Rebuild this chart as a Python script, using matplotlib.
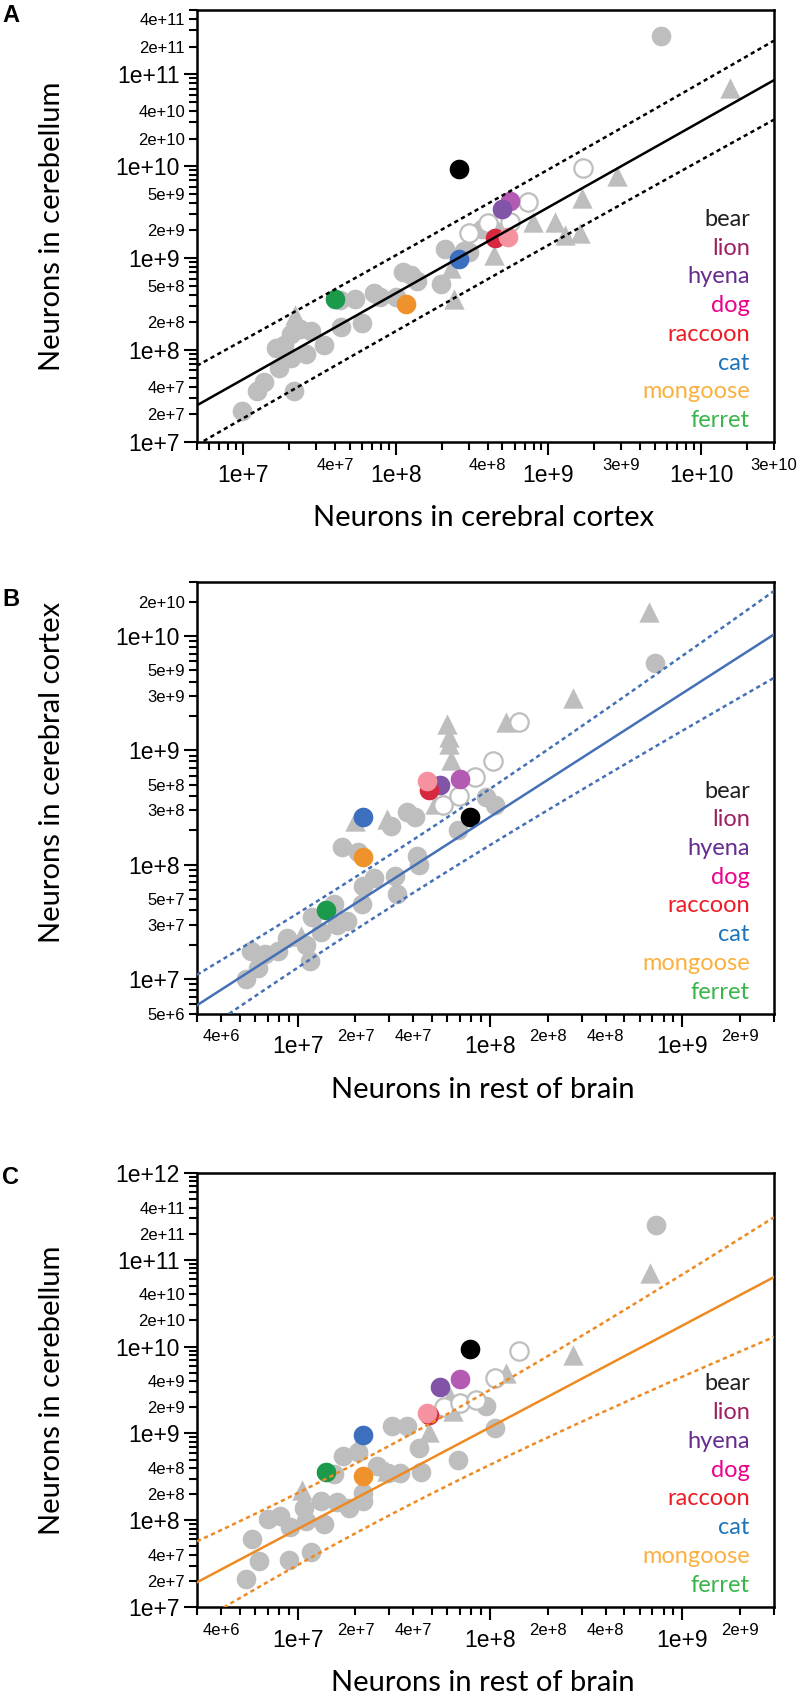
import numpy as np
import matplotlib
matplotlib.use("Agg")
import matplotlib.pyplot as plt

# ---- species (one row per species, same values reused in every panel) ----
SPECIES = ["bear", "lion", "hyena", "dog", "raccoon", "cat", "mongoose", "ferret"]
SPECIES_CORTEX = [2.6e8, 5.6e8, 5.0e8, 5.4e8, 4.5e8, 2.6e8, 1.17e8, 4.0e7]
SPECIES_CEREBELLUM = [9.4e9, 4.2e9, 3.4e9, 1.7e9, 1.65e9, 9.7e8, 3.2e8, 3.6e8]
SPECIES_REST = [7.9e7, 7.0e7, 5.5e7, 4.7e7, 4.8e7, 2.2e7, 2.2e7, 1.4e7]
MARKER_COLORS = ["#000000", "#b35ab3", "#8254a8", "#f4939f", "#d6283f",
                 "#3d6fbf", "#f0922b", "#1b9a4b"]
LABEL_COLORS = ["#231f20", "#9e1f63", "#662d91", "#ec008c", "#ed1c24",
                "#1c75bc", "#fbb040", "#39b54a"]
# order in which the coloured dots are stacked (dog sits on top of raccoon)
DRAW_ORDER = [0, 1, 2, 4, 3, 5, 6, 7]

# ---- panel A: cerebellum vs cerebral cortex ----
A_CIRCLE_X = [9.8e6, 1.23e7, 1.38e7, 1.71e7, 2.15e7, 1.64e7, 1.85e7, 2.07e7, 2.07e7, 2.6e7,
              2.38e7, 2.8e7, 3.4e7, 4.4e7, 6.0e7, 5.4e7, 4.3e7, 7.2e7, 7.9e7, 1.0e8,
              1.12e8, 1.26e8, 1.38e8, 1.98e8, 2.1e8, 2.8e8, 3.0e8, 3.7e8, 4.3e8, 5.5e9]
A_CIRCLE_Y = [2.2e7, 3.6e7, 4.5e7, 6.4e7, 3.6e7, 1.04e8, 1.14e8, 1.48e8, 8.3e7, 9.1e7,
              1.7e8, 1.62e8, 1.14e8, 1.78e8, 1.95e8, 3.6e8, 3.5e8, 4.2e8, 3.8e8, 3.8e8,
              7.1e8, 6.5e8, 5.6e8, 5.2e8, 1.26e9, 1.2e9, 1.16e9, 2.1e9, 2.1e9, 2.6e11]
A_TRI_X = [2.2e7, 2.3e8, 2.4e8, 4.4e8, 7.9e8, 1.11e9, 1.29e9, 1.62e9, 1.66e9, 2.8e9, 1.55e10]
A_TRI_Y = [2.4e8, 7.8e8, 3.6e8, 1.07e9, 2.5e9, 2.5e9, 1.8e9, 1.9e9, 4.5e9, 7.9e9, 7.1e10]
A_OPEN_X = [3.0e8, 4.0e8, 5.6e8, 7.4e8, 1.69e9]
A_OPEN_Y = [1.9e9, 2.4e9, 2.5e9, 4.1e9, 9.5e9]

# ---- panel B: cerebral cortex vs rest of brain ----
B_CIRCLE_X = [5.4e6, 5.7e6, 6.2e6, 6.8e6, 7.9e6, 8.8e6, 1.1e7, 1.16e7, 1.19e7, 1.33e7,
              1.55e7, 1.6e7, 1.81e7, 1.7e7, 2.05e7, 2.18e7, 2.15e7, 2.5e7, 3.05e7, 3.2e7,
              3.3e7, 3.7e7, 4.1e7, 4.2e7, 4.3e7, 6.8e7, 9.5e7, 1.06e8, 7.2e8]
B_CIRCLE_Y = [1.0e7, 1.77e7, 1.24e7, 1.65e7, 1.77e7, 2.3e7, 2.0e7, 1.43e7, 3.5e7, 2.6e7,
              4.5e7, 3.0e7, 3.2e7, 1.43e8, 1.28e8, 6.5e7, 4.5e7, 7.7e7, 2.2e8, 8.0e7,
              5.6e7, 2.9e8, 2.6e8, 1.19e8, 1.0e8, 2.0e8, 3.9e8, 3.3e8, 5.8e9]
B_TRI_X = [1.04e7, 2.0e7, 2.9e7, 5.2e7, 6.0e7, 6.1e7, 6.1e7, 6.3e7, 1.21e8, 2.7e8, 6.7e8]
B_TRI_Y = [2.4e7, 2.4e8, 2.5e8, 3.4e8, 1.7e9, 1.32e9, 1.14e9, 8.3e8, 1.76e9, 2.9e9, 1.63e10]
B_OPEN_X = [5.7e7, 6.9e7, 8.4e7, 1.04e8, 1.41e8]
B_OPEN_Y = [3.3e8, 4.0e8, 5.8e8, 8.0e8, 1.76e9]

# ---- panel C: cerebellum vs rest of brain ----
C_CIRCLE_X = [5.4e6, 5.8e6, 6.3e6, 7.0e6, 8.1e6, 9.0e6, 9.1e6, 1.08e7, 1.18e7, 1.11e7,
              1.32e7, 1.37e7, 1.55e7, 1.6e7, 1.85e7, 1.73e7, 2.05e7, 2.2e7, 2.2e7, 2.6e7,
              2.96e7, 3.4e7, 3.1e7, 3.7e7, 4.3e7, 4.4e7, 6.8e7, 9.6e7, 1.06e8, 7.3e8]
C_CIRCLE_Y = [2.1e7, 6.1e7, 3.35e7, 1.03e8, 1.13e8, 3.45e7, 8.4e7, 1.38e8, 4.3e7, 9.8e7,
              1.68e8, 9.1e7, 3.4e8, 1.6e8, 1.38e8, 5.5e8, 6.1e8, 2.05e8, 1.68e8, 4.2e8,
              3.5e8, 3.5e8, 1.22e9, 1.22e9, 6.7e8, 3.6e8, 5.0e8, 2.05e9, 1.16e9, 2.5e11]
C_TRI_X = [1.06e7, 2.05e7, 2.9e7, 4.8e7, 6.2e7, 6.4e7, 1.21e8, 2.7e8, 6.8e8]
C_TRI_Y = [2.2e8, 7.4e8, 3.7e8, 1.05e9, 2.6e9, 1.8e9, 4.9e9, 8.0e9, 7.1e10]
C_OPEN_X = [5.8e7, 7.0e7, 8.5e7, 1.06e8, 1.41e8]
C_OPEN_Y = [2.0e9, 2.26e9, 2.44e9, 4.3e9, 9.0e9]

# ---- power-law fits: y at x=1e7, exponent, prediction band (w0, k, centre in log10 x) ----
A_FIT = (4.8e7, 0.936, 0.41, 0.028, 8.6)
B_FIT = (2.17e7, 1.081, 0.23, 0.40, 7.4)
C_FIT = (7.9e7, 1.172, 0.40, 0.456, 7.4)

# ---- axes ranges and labelled ticks ----
A_XLIM, A_YLIM = (5e6, 3e10), (1e7, 5e11)
B_XLIM, B_YLIM = (3e6, 3e9), (5e6, 3e10)
C_XLIM, C_YLIM = (3e6, 3e9), (1e7, 1e12)
A_XSMALL = [4e7, 4e8, 3e9, 3e10]
A_YSMALL = [2e7, 4e7, 2e8, 5e8, 2e9, 5e9, 2e10, 4e10, 2e11, 4e11]
B_XSMALL = [4e6, 2e7, 4e7, 2e8, 4e8, 2e9]
B_YSMALL = [5e6, 3e7, 5e7, 3e8, 5e8, 3e9, 5e9, 2e10]
C_YSMALL = [2e7, 4e7, 2e8, 4e8, 2e9, 4e9, 2e10, 4e10, 2e11, 4e11]

GRAY = "#bebebe"
TICK_FONT = "Liberation Sans"
TEXT_FONT = "Lato"

W, H = 800, 1702


def sci_label(v):
    e = int(np.floor(np.log10(v) + 1e-9))
    m = int(round(v / 10 ** e))
    return f"{m}e+{e}"


def log_ticks(lim, small):
    lo, hi = np.log10(lim[0]), np.log10(lim[1])
    majors = [10.0 ** e for e in range(int(np.ceil(lo - 1e-9)), int(np.floor(hi + 1e-9)) + 1)]
    minors = []
    for e in range(int(np.floor(lo)), int(np.ceil(hi)) + 1):
        for m in range(2, 10):
            v = m * 10.0 ** e
            if lim[0] * 0.999 <= v <= lim[1] * 1.001:
                minors.append(v)
    minor_labels = []
    for v in minors:
        hit = any(abs(v / s - 1) < 1e-6 for s in small)
        minor_labels.append(sci_label(v) if hit else "")
    return majors, [sci_label(v) for v in majors], minors, minor_labels


def style_axis(ax, xlim, ylim, xsmall, ysmall):
    ax.set_xscale("log")
    ax.set_yscale("log")
    ax.set_xlim(*xlim)
    ax.set_ylim(*ylim)
    mj, mjl, mn, mnl = log_ticks(xlim, xsmall)
    ax.set_xticks(mj, mjl)
    ax.set_xticks(mn, mnl, minor=True)
    mj, mjl, mn, mnl = log_ticks(ylim, ysmall)
    ax.set_yticks(mj, mjl)
    ax.set_yticks(mn, mnl, minor=True)
    ax.tick_params(which="major", length=9.5, width=1.5, labelsize=16.5, pad=3)
    ax.tick_params(which="minor", length=5.5, width=1.5, labelsize=12, pad=3)
    ax.tick_params(axis="x", which="both", pad=6)
    for lab in ax.get_xticklabels(which="both") + ax.get_yticklabels(which="both"):
        lab.set_fontfamily(TICK_FONT)
    for sp in ax.spines.values():
        sp.set_linewidth(1.8)


def draw_panel(ax, cx, cy, tx, ty, ox, oy, sx, sy, fit, line_color, xlim):
    ax.scatter(cx, cy, s=200, color=GRAY, linewidths=0, zorder=2)
    ax.scatter(tx, ty, s=215, marker="^", color=GRAY, linewidths=0, zorder=2)
    ax.scatter(ox, oy, s=175, facecolor="white", edgecolor=GRAY, linewidths=1.6, zorder=3)
    for i in DRAW_ORDER:
        ax.scatter([sx[i]], [sy[i]], s=200, color=MARKER_COLORS[i], linewidths=0, zorder=4)

    y0, slope, w0, k, xc = fit
    lx = np.linspace(np.log10(xlim[0]), np.log10(xlim[1]), 200)
    ly = np.log10(y0) + slope * (lx - 7)
    w = w0 * np.sqrt(1 + k * (lx - xc) ** 2)
    ax.plot(10 ** lx, 10 ** ly, color=line_color, lw=1.8, zorder=5)
    for sign in (1, -1):
        ax.plot(10 ** lx, 10 ** (ly + sign * w), color=line_color, lw=1.8,
                dashes=(1.7, 1.4), zorder=5)

    for i, (name, col) in enumerate(zip(SPECIES, LABEL_COLORS)):
        ax.text(0.958, 0.515 - i * 0.0665, name, color=col, fontsize=17,
                family=TEXT_FONT, ha="right", va="center", transform=ax.transAxes)


def main():
    fig = plt.figure(figsize=(W / 100, H / 100), dpi=100)
    left, width = 197 / W, 577 / W

    panels = [
        ("A", 442, 432, 16, A_CIRCLE_X, A_CIRCLE_Y, A_TRI_X, A_TRI_Y, A_OPEN_X, A_OPEN_Y,
         SPECIES_CORTEX, SPECIES_CEREBELLUM, A_FIT, "#000000", A_XLIM, A_YLIM, A_XSMALL, A_YSMALL,
         "Neurons in cerebral cortex", "Neurons in cerebellum", 0.5),
        ("B", 1013.5, 432, 599, B_CIRCLE_X, B_CIRCLE_Y, B_TRI_X, B_TRI_Y, B_OPEN_X, B_OPEN_Y,
         SPECIES_REST, SPECIES_CORTEX, B_FIT, "#4470b5", B_XLIM, B_YLIM, B_XSMALL, B_YSMALL,
         "Neurons in rest of brain", "Neurons in cerebral cortex", 0.559),
        ("C", 1607, 434, 1178, C_CIRCLE_X, C_CIRCLE_Y, C_TRI_X, C_TRI_Y, C_OPEN_X, C_OPEN_Y,
         SPECIES_REST, SPECIES_CEREBELLUM, C_FIT, "#ee8a22", C_XLIM, C_YLIM, B_XSMALL, C_YSMALL,
         "Neurons in rest of brain", "Neurons in cerebellum", 0.5),
    ]

    for (letter, bottom_px, h_px, letter_y, cx, cy, tx, ty, ox, oy, sx, sy, fit, lc,
         xlim, ylim, xsmall, ysmall, xlabel, ylabel, ylab_y) in panels:
        ax = fig.add_axes([left, 1 - bottom_px / H, width, h_px / H])
        draw_panel(ax, cx, cy, tx, ty, ox, oy, sx, sy, fit, lc, xlim)
        style_axis(ax, xlim, ylim, xsmall, ysmall)
        ax.text(0.496, -0.176, xlabel, fontsize=21, family=TEXT_FONT,
                ha="center", va="center", transform=ax.transAxes)
        ax.text(-0.251, ylab_y, ylabel, fontsize=21, family=TEXT_FONT, rotation=90,
                ha="center", va="center", transform=ax.transAxes)
        fig.text(2 / W, 1 - letter_y / H, letter, fontsize=17, fontweight="bold",
                 family=TICK_FONT, ha="left", va="center")

    fig.savefig("out.png", dpi=100)
    plt.close(fig)


if __name__ == "__main__":
    main()
